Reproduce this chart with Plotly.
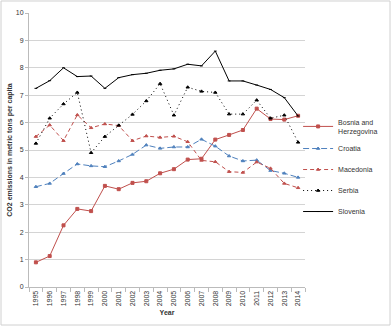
import plotly.graph_objects as go

years = [str(y) for y in range(1995, 2015)]

bosnia = [0.90, 1.13, 2.25, 2.85, 2.77, 3.69, 3.57, 3.80, 3.86, 4.15,
          4.30, 4.65, 4.68, 5.38, 5.55, 5.73, 6.51, 6.13, 6.11, 6.25]
croatia = [3.66, 3.78, 4.14, 4.49, 4.42, 4.39, 4.60, 4.84, 5.18, 5.06,
           5.11, 5.11, 5.39, 5.14, 4.78, 4.60, 4.63, 4.25, 4.15, 4.00]
macedonia = [5.49, 5.91, 5.34, 6.28, 5.81, 5.95, 5.89, 5.34, 5.51, 5.46,
             5.50, 5.30, 4.62, 4.57, 4.21, 4.18, 4.56, 4.33, 3.78, 3.62]
serbia = [5.24, 6.16, 6.68, 7.10, 4.90, 5.49, 5.90, 6.30, 6.79, 7.42,
          6.27, 7.29, 7.14, 7.10, 6.31, 6.31, 6.82, 6.16, 6.27, 5.28]
slovenia = [7.25, 7.53, 8.00, 7.68, 7.70, 7.25, 7.64, 7.75, 7.80, 7.91,
            7.96, 8.13, 8.07, 8.61, 7.52, 7.52, 7.37, 7.21, 6.91, 6.24]

RED = '#C0504D'
BLUE = '#4F81BD'
FONT = 'Liberation Sans'

fig = go.Figure()

series = [
    ('Bosnia and<br>Herzegovina', bosnia, RED, 'solid', 'square', 3),
    ('Croatia', croatia, BLUE, '6px,3px', 'triangle-up', 3),
    ('Macedonia', macedonia, RED, '4px,3px', 'triangle-up', 3),
    ('Serbia', serbia, 'black', '1px,3px', 'triangle-up', 3),
    ('Slovenia', slovenia, 'black', 'solid', 'line-ew', 2),
]

for name, vals, color, dash, sym, size in series:
    fig.add_trace(go.Scatter(
        x=years, y=vals, name=name, legendgroup=name,
        mode='lines+markers',
        line=dict(color=color, width=1, dash=dash),
        marker=dict(symbol=sym, size=size, color=color,
                    line=dict(color=color, width=1)),
    ))

# outer chart border
fig.add_shape(type='rect', xref='paper', yref='paper',
              x0=-0.1014, x1=1.308, y0=-0.1387, y1=1.0438,
              line=dict(color='#d0d0d0', width=1))

fig.update_layout(
    width=392, height=327,
    margin=dict(l=29, r=87, t=13, b=40, autoexpand=False),
    paper_bgcolor='white', plot_bgcolor='white',
    font=dict(family=FONT, size=7, color='#333'),
    legend=dict(x=0.975, y=0.643, xanchor='left', yanchor='top',
                font=dict(size=7, color='#333'),
                tracegroupgap=2, itemwidth=30,
                bgcolor='rgba(0,0,0,0)'),
)

fig.update_xaxes(
    type='category', range=[-0.5, 19.5], automargin=False,
    tickangle=-90, tickson='boundaries',
    ticks='outside', ticklen=4, tickcolor='#bbb',
    showline=True, linecolor='#bbb', linewidth=1,
    showgrid=False,
    title=dict(text='<b>Year</b>', font=dict(size=7), standoff=4),
)
fig.update_yaxes(
    range=[0, 10], dtick=1, automargin=False,
    ticks='outside', ticklen=3, tickcolor='#bbb',
    showline=True, linecolor='#bbb', linewidth=1,
    showgrid=True, gridcolor='#d4d4d4', gridwidth=1,
    zeroline=False,
    title=dict(text='<b>CO2 emissions in metric tons per capita</b>',
               font=dict(size=7), standoff=2),
)

fig.write_html('out.html', config={'displayModeBar': False},
               post_script="document.body.style.margin='0';")
